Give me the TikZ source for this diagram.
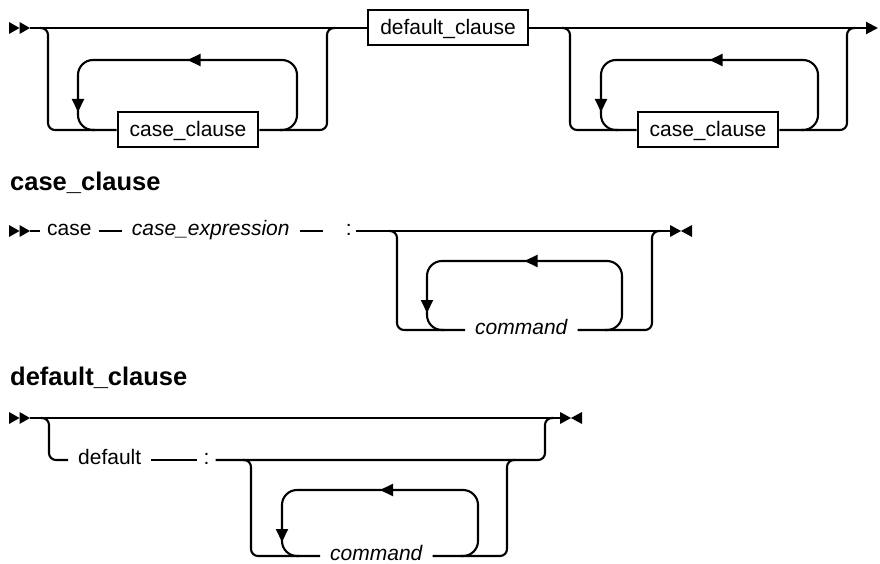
\documentclass[tikz,border=0pt]{standalone}
\usepackage{fontspec}
\setmainfont{Liberation Sans}
\usetikzlibrary{arrows.meta,positioning}
\tikzset{
  railstart/.pic={\fill (0,-6) -- (10.5,0) -- (0,6) -- cycle; \fill (10.5,-6) -- (21,0) -- (10.5,6) -- cycle;},
  railend/.pic={\fill (0,-6) -- (11,0) -- (0,6) -- cycle; \fill (22,-6) -- (11,0) -- (22,6) -- cycle;}
}
\begin{document}
\begin{tikzpicture}[x=1pt,y=-1pt,
  rail/.style={line width=2.1pt,rounded corners=7pt},
  backloop/.style={line width=2.1pt,rounded corners=15pt},
  midtip/.style={line width=2.1pt,-{Triangle[length=13pt,width=12pt]}},
  term/.style={rectangle,draw,line width=2pt,minimum height=35pt,inner xsep=12pt,text height=15pt,text depth=1pt,font=\fontsize{21}{25}\selectfont},
  word/.style={anchor=west,inner xsep=7pt,inner ysep=0pt,text height=11pt,text depth=3pt,font=\fontsize{21}{25}\selectfont},
  var/.style={word,inner xsep=10pt,font=\fontsize{21}{25}\selectfont\itshape},
  hdr/.style={anchor=base west,inner sep=0pt,font=\fontsize{25.5}{30}\selectfont\bfseries}]
\useasboundingbox (0,0) rectangle (880,564);
\pic at (9,28) {railstart};
\node[term] (dflt) at (448,28) {default\_clause};
\node[term] (cc1) at (188,130) {case\_clause};
\node[term] (cc2) at (708,130) {case\_clause};
\draw[rail] (30,28) -- (dflt.west);
\draw[rail,-{Triangle[length=12pt,width=12pt]}] (dflt.east) -- (878,28);
\draw[rail] (40,28) -- (48,28) -- (48,130) -- (cc1.west);
\draw[rail] (cc1.east) -- (327,130) -- (327,28) -- (335,28);
\draw[rail] (562,28) -- (570,28) -- (570,130) -- (cc2.west);
\draw[rail] (cc2.east) -- (847,130) -- (847,28) -- (855,28);
\node[hdr] (hcase) at (10,190) {case\_clause};
\pic at (9,231) {railstart};
\node[word] (cs) at (40,231) {case};
\node[var,right=23pt of cs] (expr) {case\_expression};
\node[word,inner xsep=4pt,right=42pt of expr] (col1) {:};
\node[var] (cmd1) at (465,330) {command};
\draw[rail] (30,231) -- (cs.west) (cs.east) -- (expr.west) (expr.east) -- ++(23,0) (col1.east) -- (670,231);
\draw[rail] (389,231) -- (397,231) -- (397,330) -- (cmd1.west);
\draw[rail] (cmd1.east) -- (652,330) -- (652,231) -- (660,231);
\pic at (670,231) {railend};
\node[hdr] (hdef) at (10,385) {default\_clause};
\pic at (9,418) {railstart};
\draw[rail] (30,418) -- (560,418);
\pic at (560,418) {railend};
\node[word,inner xsep=10pt] (dk) at (68,460) {default};
\node[word,inner xsep=6pt,right=46pt of dk] (col2) {:};
\node[var] (cmd2) at (320,556) {command};
\draw[rail] (41,418) -- (49,418) -- (49,460) -- (dk.west);
\draw[rail] (dk.east) -- (col2.west);
\draw[rail] (col2.east) -- (545,460) -- (545,418) -- (553,418);
\draw[rail] (243,460) -- (251,460) -- (251,556) -- (cmd2.west);
\draw[rail] (cmd2.east) -- (507,556) -- (507,460) -- (515,460);
\foreach \l/\r/\t/\b in {78/297/60/130,601/818/60/130,427/622/261/330,282/478/490/556}{
  \draw[backloop] (\l+17,\b) -- (\l,\b) -- (\l,\t) -- (\r,\t) -- (\r,\b) -- (\r-17,\b);
  \draw[midtip] ({(\l+\r)/2+13},\t) -- ({(\l+\r)/2},\t);
  \draw[midtip] (\l,\t+39) -- (\l,\t+52);
}
\end{tikzpicture}
\end{document}
